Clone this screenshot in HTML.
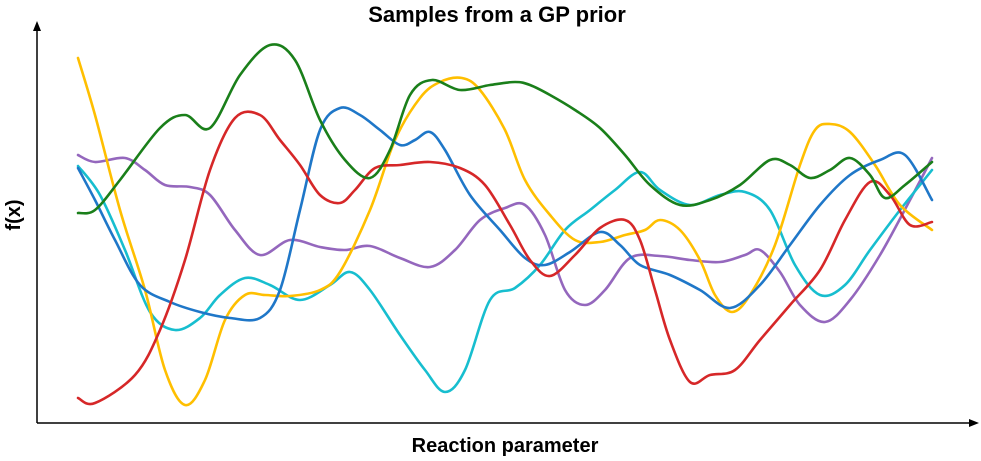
<!DOCTYPE html>
<html><head><meta charset="utf-8"><style>
html,body{margin:0;padding:0;background:#fff;}
svg{display:block;font-family:"Liberation Sans",sans-serif;}
</style></head><body>
<svg id="chart" width="981" height="461" viewBox="0 0 981 461">
<text x="497" y="22" text-anchor="middle" font-size="22" font-weight="bold">Samples from a GP prior</text>
<text x="505" y="452" text-anchor="middle" font-size="20" font-weight="bold">Reaction parameter</text>
<text x="20" y="215" text-anchor="middle" font-size="20" font-weight="bold" transform="rotate(-90 20 215)">f(x)</text>
<line x1="37" y1="423" x2="37" y2="30" stroke="#000" stroke-width="1.5"/>
<polygon points="37,21 33,31 41,31" fill="#000"/>
<line x1="37" y1="423" x2="970" y2="423" stroke="#000" stroke-width="1.5"/>
<polygon points="979,423 969,419 969,427" fill="#000"/>
<g id="series"></g>
</svg>
<script>
const greenX=[0,1.7,4.2,8.2,10.7,13.2,16.2,19.2,21.7,24.2,26.7,29.2,31.2,33.2,35.4,38.2,41.2,43.7,45.2,47.2,49.7,52.2,54.7,57.2,60.2,63.2,66.2,69.2,71.2,73.2,75.2,77.2,79.2,80.7,82.7,85.4];
const greenY=[0.87,0.90,1.20,1.72,1.85,1.72,2.25,2.55,2.40,1.80,1.40,1.22,1.50,2.05,2.20,2.10,2.15,2.18,2.15,2.05,1.90,1.72,1.45,1.15,0.95,1.00,1.15,1.40,1.35,1.22,1.30,1.42,1.25,1.02,1.15,1.38];
const redX=[0,1.7,5.7,8.2,10.7,13.2,15.7,18.2,20.2,22.2,24.2,26.2,27.7,29.7,32.2,35.2,38.2,40.7,43.2,45.2,47.2,49.7,52.2,54.7,56.2,57.7,59.2,61.2,63.2,65.7,68.2,71.2,74.2,76.7,79.2,81.2,83.2,85.4];
const redY=[-0.98,-1.03,-0.75,-0.30,0.40,1.30,1.82,1.85,1.60,1.35,1.05,0.97,1.10,1.32,1.35,1.38,1.32,1.15,0.75,0.40,0.24,0.45,0.72,0.80,0.60,0.10,-0.40,-0.82,-0.75,-0.70,-0.40,-0.05,0.30,0.80,1.18,1.05,0.75,0.78];
const blueX=[0,1.7,3.7,6.2,9.2,12.2,15.2,18.2,20.2,22.2,24.2,26.2,28.2,30.2,32.2,33.7,35.2,36.7,39.2,42.2,44.7,46.7,49.2,52.2,54.2,56.2,59.2,62.2,65.2,68.2,71.2,74.2,77.2,80.2,82.7,85.4];
const blueY=[1.32,1.00,0.60,0.15,-0.02,-0.12,-0.18,-0.18,0.10,0.90,1.70,1.92,1.85,1.70,1.55,1.60,1.68,1.50,1.05,0.70,0.42,0.35,0.48,0.68,0.55,0.35,0.25,0.10,-0.08,0.15,0.55,0.95,1.25,1.40,1.45,1.00];
const yellowX=[0,1.7,4.2,6.7,8.7,10.7,12.7,14.7,16.7,18.7,21.2,24.2,26.2,29.2,31.7,34.2,36.2,38.4,40.2,42.7,44.7,47.2,49.7,52.2,54.7,56.7,58.2,60.2,62.2,63.7,65.4,67.2,69.7,72.2,73.7,75.2,77.2,79.7,82.2,85.4];
const yellowY=[2.42,1.85,0.90,0.10,-0.70,-1.05,-0.80,-0.20,0.05,0.05,0.04,0.10,0.28,0.90,1.60,2.02,2.18,2.22,2.10,1.70,1.20,0.85,0.60,0.58,0.65,0.70,0.80,0.70,0.40,0.05,-0.12,0.05,0.55,1.35,1.70,1.76,1.68,1.35,0.95,0.70];
const cyanX=[0,2.2,4.7,7.2,9.7,12.2,14.2,16.7,19.2,22.2,25.2,27.2,29.2,32.2,34.7,36.7,38.7,41.2,43.7,46.2,48.7,51.2,53.7,56.2,58.2,61.2,64.2,66.7,69.2,71.7,74.2,76.7,79.2,82.2,85.4];
const cyanY=[1.34,1.05,0.50,-0.12,-0.30,-0.18,0.05,0.22,0.15,0.00,0.15,0.28,0.10,-0.35,-0.70,-0.92,-0.70,0.00,0.12,0.35,0.70,0.90,1.10,1.28,1.10,0.95,1.05,1.08,0.90,0.35,0.05,0.15,0.50,0.90,1.30];
const purpleX=[0,1.7,4.7,6.7,8.7,11.2,13.2,15.7,18.2,21.2,24.2,26.7,29.2,32.2,35.2,37.7,40.2,42.7,44.7,46.7,48.7,50.7,52.7,55.2,58.2,61.2,64.2,66.7,68.2,70.2,72.2,74.7,77.2,80.2,83.2,85.4];
const purpleY=[1.45,1.38,1.42,1.30,1.15,1.13,1.05,0.70,0.45,0.60,0.53,0.50,0.54,0.42,0.33,0.50,0.80,0.92,0.95,0.65,0.10,-0.05,0.10,0.42,0.44,0.40,0.38,0.45,0.50,0.28,-0.05,-0.22,0.00,0.45,1.00,1.42];

function sx(v){return 78+v*10;}
function sy(v){return 300-v*100;}
function smooth(xs,ys){
  const p=xs.map((x,i)=>[sx(x),sy(ys[i])]);
  let d='M'+p[0][0]+','+p[0][1];
  for(let i=0;i<p.length-1;i++){
    const p0=p[i-1]||p[i],p1=p[i],p2=p[i+1],p3=p[i+2]||p2;
    const c1x=p1[0]+(p2[0]-p0[0])/6,c1y=p1[1]+(p2[1]-p0[1])/6;
    const c2x=p2[0]-(p3[0]-p1[0])/6,c2y=p2[1]-(p3[1]-p1[1])/6;
    d+=' C'+c1x.toFixed(1)+','+c1y.toFixed(1)+' '+c2x.toFixed(1)+','+c2y.toFixed(1)+' '+p2[0].toFixed(1)+','+p2[1].toFixed(1);
  }
  return d;
}
const g=document.getElementById('series');
function draw(xs,ys,color,name){
  const el=document.createElementNS('http://www.w3.org/2000/svg','path');
  el.setAttribute('d',smooth(xs,ys));
  el.setAttribute('fill','none');
  el.setAttribute('stroke',color);
  el.setAttribute('stroke-width','2.6');
  el.setAttribute('stroke-linejoin','round');
  el.setAttribute('stroke-linecap','round');
  
  
  g.appendChild(el);
}
draw(purpleX,purpleY,'#9467bd','sample-purple');
draw(cyanX,cyanY,'#17becf','sample-cyan');
draw(yellowX,yellowY,'#ffbf00','sample-yellow');
draw(blueX,blueY,'#1f77c8','sample-blue');
draw(redX,redY,'#d62728','sample-red');
draw(greenX,greenY,'#1a7f1a','sample-green');
</script>
</body></html>
